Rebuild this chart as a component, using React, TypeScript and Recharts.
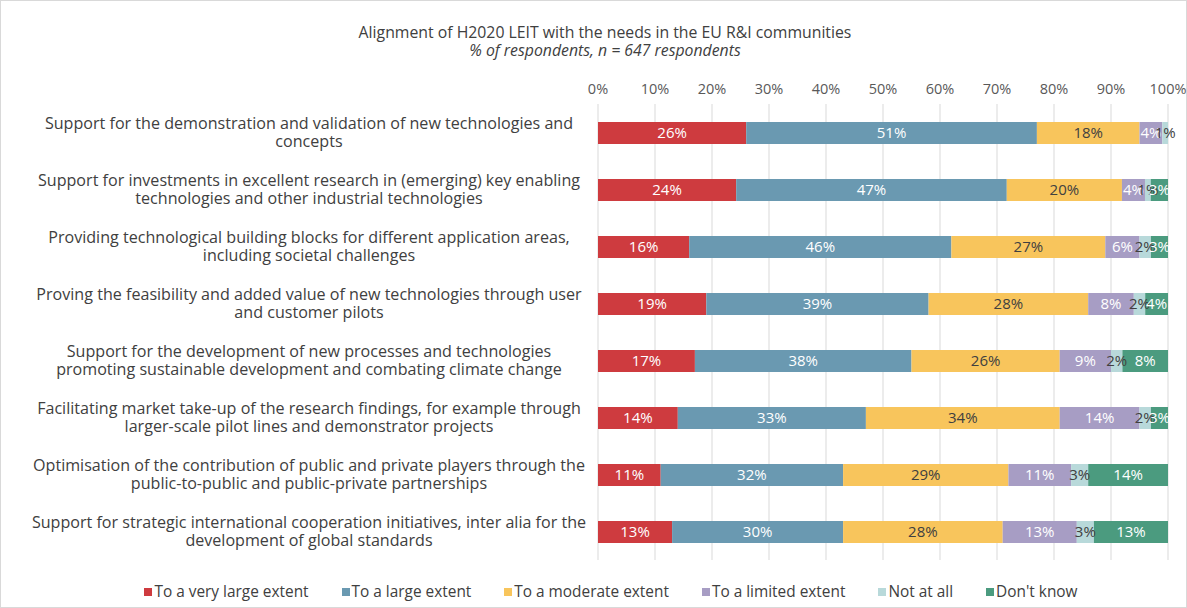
import React from "react"
import { BarChart, Bar, XAxis, YAxis, CartesianGrid, LabelList } from "recharts"

// category labels, split where the original wraps them
const categoryLines = [
  ["Support for the demonstration and validation of new technologies and", "concepts"],
  ["Support for investments in excellent research in (emerging) key enabling", "technologies and other industrial technologies"],
  ["Providing technological building blocks for different application areas,", "including societal challenges"],
  ["Proving the feasibility and added value of new technologies through user", "and customer pilots"],
  ["Support for the development of new processes and technologies", "promoting sustainable development and combating climate change"],
  ["Facilitating market take-up of the research findings, for example through", "larger-scale pilot lines and demonstrator projects"],
  ["Optimisation of the contribution of public and private players through the", "public-to-public and public-private partnerships"],
  ["Support for strategic international cooperation initiatives, inter alia for the", "development of global standards"],
]

const veryLarge = [26, 24, 16, 19, 17, 14, 11, 13]
const large = [51, 47, 46, 39, 38, 33, 32, 30]
const moderate = [18, 20, 27, 28, 26, 34, 29, 28]
const limited = [4, 4, 6, 8, 9, 14, 11, 13]
const notAtAll = [1, 1, 2, 2, 2, 2, 3, 3]
const dontKnow = [0, 3, 3, 4, 8, 3, 14, 13]

const xTicks = [0, 0.1, 0.2, 0.3, 0.4, 0.5, 0.6, 0.7, 0.8, 0.9, 1]

const series = [
  { key: "veryLarge", name: "To a very large extent", values: veryLarge, color: "#CE3B3F", text: "#ffffff" },
  { key: "large", name: "To a large extent", values: large, color: "#6A99B1", text: "#ffffff" },
  { key: "moderate", name: "To a moderate extent", values: moderate, color: "#F8C55C", text: "#404040" },
  { key: "limited", name: "To a limited extent", values: limited, color: "#A79DC4", text: "#ffffff" },
  { key: "notAtAll", name: "Not at all", values: notAtAll, color: "#B8D9DA", text: "#404040" },
  { key: "dontKnow", name: "Don't know", values: dontKnow, color: "#4B9B7F", text: "#ffffff" },
]

const data = categoryLines.map((lines, i) => {
  const row: any = { name: lines.join(" "), lines }
  series.forEach((s) => (row[s.key] = s.values[i]))
  return row
})

const FONT = "'Open Sans', sans-serif"

function CategoryTick(props: any) {
  const { y, index } = props
  const lines = categoryLines[index] || []
  return (
    <text x={308} y={y} textAnchor="middle" fontFamily={FONT} fontSize={16.1} fill="#404040">
      {lines.map((l, i) => (
        <tspan key={i} x={308} dy={i === 0 ? -4 : 18}>
          {l}
        </tspan>
      ))}
    </text>
  )
}

export default function App() {
  return (
    <div
      style={{
        position: "absolute",
        left: 0,
        top: 0,
        width: 1187,
        height: 608,
        background: "#fff",
        fontFamily: FONT,
        boxSizing: "border-box",
        border: "1px solid #D9D9D9",
      }}
    >
      <div style={{ position: "absolute", top: 22, left: 0, width: 1208, textAlign: "center", fontSize: 15.8, color: "#404040", lineHeight: "18px" }}>
        <div>Alignment of H2020 LEIT with the needs in the EU R&amp;I communities</div>
        <div style={{ fontStyle: "italic" }}>% of respondents, n = 647 respondents</div>
      </div>
      <BarChart
        width={1187}
        height={608}
        data={data}
        layout="vertical"
        stackOffset="expand"
        barSize={22}
        margin={{ top: 73, right: 20, bottom: 49, left: 0 }}
      >
        <CartesianGrid horizontal={false} stroke="#D9D9D9" />
        <XAxis
          type="number"
          orientation="top"
          domain={[0, 1]}
          ticks={xTicks}
          tickFormatter={(v: number) => `${Math.round(v * 100)}%`}
          axisLine={false}
          tickLine={false}
          tickSize={0}
          tickMargin={10}
          height={30}
          tick={{ fill: "#595959", fontSize: 14.5, fontFamily: FONT }}
        />
        <YAxis
          type="category"
          dataKey="name"
          width={597}
          axisLine={false}
          tickLine={false}
          interval={0}
          tick={<CategoryTick />}
        />
        {series.map((s) => (
          <Bar key={s.key} dataKey={s.key} name={s.name} stackId="a" fill={s.color} isAnimationActive={false}>
            <LabelList
              dataKey={s.key}
              position="center"
              fill={s.text}
              fontSize={15}
              fontFamily={FONT}
              formatter={(v: any) => (v ? `${v}%` : "")}
            />
          </Bar>
        ))}
      </BarChart>
      <div
        style={{
          position: "absolute",
          top: 580,
          left: 0,
          width: 1220,
          display: "flex",
          justifyContent: "center",
          gap: 33,
          fontSize: 15.4,
          color: "#404040",
        }}
      >
        {series.map((s) => (
          <div key={s.key} style={{ display: "flex", alignItems: "center" }}>
            <span style={{ width: 8, height: 8, background: s.color, display: "inline-block", marginRight: 2 }} />
            {s.name}
          </div>
        ))}
      </div>
    </div>
  )
}
